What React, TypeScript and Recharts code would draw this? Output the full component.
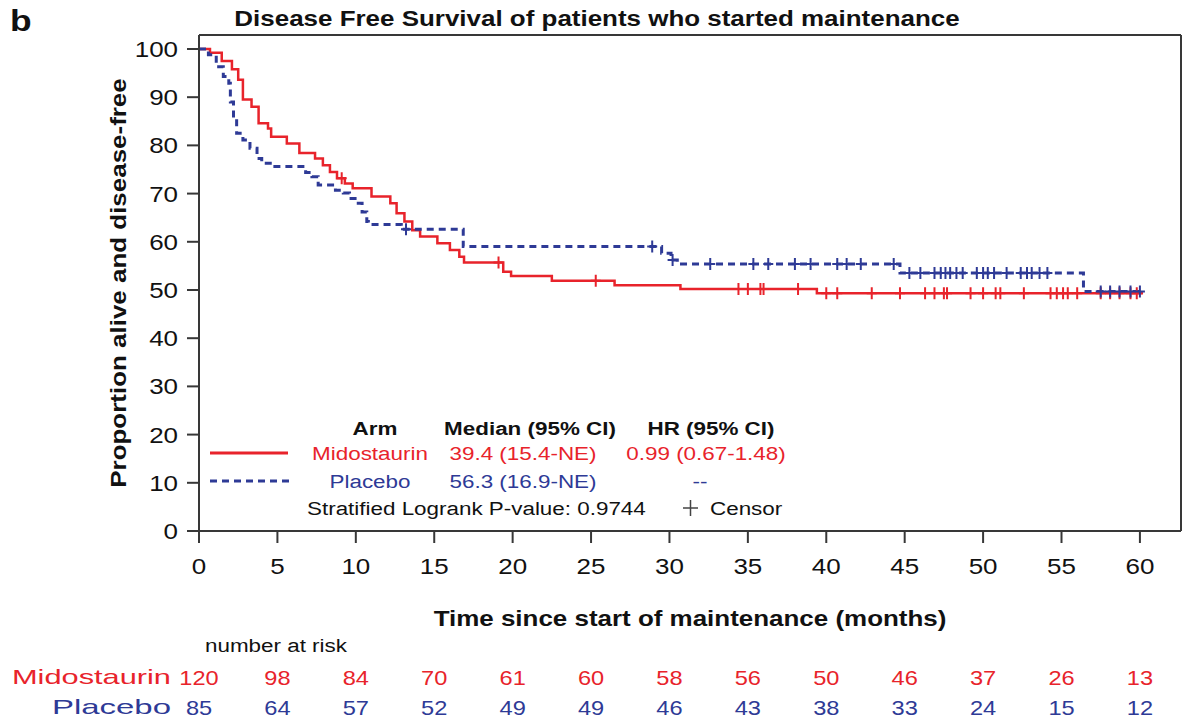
import React from 'react';
import {
  ComposedChart,
  Line,
  Scatter,
  XAxis,
  YAxis,
  ReferenceLine,
  Customized,
} from 'recharts';

const FONT = '"Liberation Sans", Arial, Helvetica, sans-serif';
const RED = '#e8232b';
const BLUE = '#2e3a96';
const AXIS = '#383838';
const INK = '#111111';
// horizontal widening applied to all text glyphs
const SX = 1.18;

// Kaplan-Meier step points (months, % alive and disease-free)
const midoTimes = [0, 0.7, 1.45, 2.1, 2.5, 2.8, 3.35, 3.8, 4.4, 4.6, 5.6, 6.4, 7.4, 7.9, 8.35, 8.8, 9.3, 9.8, 11.0, 12.2, 12.6, 13.1, 13.6, 14.1, 15.2, 16.0, 16.6, 16.9, 19.4, 19.9, 22.5, 26.5, 30.7, 39.4, 60.2];
const midoSurv = [100, 99.2, 97.5, 95.8, 93.6, 89.5, 88.0, 84.6, 83.5, 81.8, 80.4, 78.4, 77.3, 75.9, 74.5, 73.2, 72.1, 71.1, 69.4, 68.0, 65.9, 64.2, 62.4, 61.1, 59.7, 58.3, 56.9, 55.7, 53.8, 52.9, 51.9, 51.0, 50.2, 49.3, 49.3];

const placeboTimes = [0, 0.6, 1.1, 1.55, 1.9, 2.0, 2.2, 2.4, 2.8, 3.25, 3.7, 4.0, 4.7, 6.8, 7.2, 7.6, 8.7, 9.2, 9.6, 10.05, 10.4, 10.7, 10.8, 12.9, 16.85, 29.5, 30.1, 30.5, 44.7, 56.4, 60.1];
const placeboSurv = [100, 98.8, 96.3, 94.3, 92.9, 89.0, 85.5, 82.5, 81.1, 79.4, 77.3, 76.3, 75.6, 74.4, 73.5, 71.8, 70.7, 70.1, 69.0, 68.0, 66.2, 64.2, 63.6, 62.6, 59.0, 57.6, 56.2, 55.4, 53.5, 49.7, 49.7];

// Censoring times (months)
const midoCensor = [9.1, 19.1, 25.3, 34.4, 35.0, 35.8, 36.0, 38.2, 40.0, 40.7, 42.9, 44.7, 46.3, 46.9, 47.5, 47.7, 49.2, 50.0, 50.8, 51.1, 52.6, 54.3, 54.7, 55.1, 55.4, 56.0, 57.5, 58.1, 58.7, 59.4, 59.8];
const placeboCensor = [13.2, 28.9, 30.2, 32.6, 35.35, 36.3, 38.0, 39.0, 40.7, 41.3, 42.2, 44.3, 45.3, 46.0, 46.9, 47.3, 47.6, 47.9, 48.3, 48.7, 49.6, 50.0, 50.3, 50.7, 51.5, 52.4, 52.8, 53.1, 53.6, 54.1, 57.5, 58.1, 58.7, 59.4, 60.0];

// Number at risk table
const riskMonths = [0, 5, 10, 15, 20, 25, 30, 35, 40, 45, 50, 55, 60];
const midoAtRisk = [120, 98, 84, 70, 61, 60, 58, 56, 50, 46, 37, 26, 13];
const placeboAtRisk = [85, 64, 57, 52, 49, 49, 46, 43, 38, 33, 24, 15, 12];

const yTicks = [0, 10, 20, 30, 40, 50, 60, 70, 80, 90, 100];

const X_MAX = 62.62;
const Y_MAX = 102.9;

function stepValue(times: number[], surv: number[], t: number): number {
  let v = surv[0];
  for (let i = 0; i < times.length; i++) {
    if (times[i] <= t) v = surv[i];
  }
  return v;
}

const midoCurve = midoTimes.map((t, i) => ({ t, s: midoSurv[i] }));
const placeboCurve = placeboTimes.map((t, i) => ({ t, s: placeboSurv[i] }));
const midoMarks = midoCensor.map((t) => ({ t, s: stepValue(midoTimes, midoSurv, t) }));
const placeboMarks = placeboCensor.map((t) => ({ t, s: stepValue(placeboTimes, placeboSurv, t) }));

type STextProps = {
  x: number;
  y: number;
  size: number;
  fill?: string;
  bold?: boolean;
  anchor?: 'start' | 'middle' | 'end';
  rotate?: number;
  children: React.ReactNode;
};

// Text widened horizontally around its anchor point
function SText({ x, y, size, fill = INK, bold, anchor = 'start', rotate, children }: STextProps) {
  const rot = rotate ? ` rotate(${rotate})` : '';
  return (
    <text
      transform={`translate(${x},${y})${rot} scale(${SX},1)`}
      fontFamily={FONT}
      fontSize={size}
      fontWeight={bold ? 'bold' : 'normal'}
      fill={fill}
      textAnchor={anchor}
    >
      {children}
    </text>
  );
}

function makePlus(color: string) {
  return (props: any) => {
    const { cx, cy } = props;
    if (cx == null || cy == null) return <g />;
    return (
      <path
        d={`M${cx - 5},${cy}H${cx + 5}M${cx},${cy - 6}V${cy + 6}`}
        stroke={color}
        strokeWidth={2}
        fill="none"
      />
    );
  };
}

function TimeTick(props: any) {
  const { x, y, payload } = props;
  const i = riskMonths.indexOf(payload.value);
  return (
    <g>
      <SText x={x} y={y + 17} size={22} anchor="middle">{payload.value}</SText>
      <SText x={x} y={y + 128} size={20} fill={RED} anchor="middle">
        {i >= 0 ? midoAtRisk[i] : ''}
      </SText>
      <SText x={x} y={y + 158} size={20} fill={BLUE} anchor="middle">
        {i >= 0 ? placeboAtRisk[i] : ''}
      </SText>
    </g>
  );
}

function ValueTick(props: any) {
  const { x, y, payload } = props;
  return (
    <SText x={x} y={y + 8} size={22} anchor="end">{payload.value}</SText>
  );
}

function Annotations() {
  return (
    <g>
      <SText x={10} y={31} size={30} bold>b</SText>
      <SText x={597} y={26} size={22} bold anchor="middle">
        Disease Free Survival of patients who started maintenance
      </SText>
      <SText x={126} y={283} size={22} bold anchor="middle" rotate={-90}>
        Proportion alive and disease-free
      </SText>
      <SText x={690} y={626} size={22} bold anchor="middle">
        Time since start of maintenance (months)
      </SText>

      {/* number at risk labels */}
      <SText x={205} y={652} size={19}>number at risk</SText>
      <text
        x={12}
        y={684}
        fontFamily={FONT}
        fontSize={21}
        fill={RED}
        textLength={159}
        lengthAdjust="spacingAndGlyphs"
      >
        Midostaurin
      </text>
      <text
        x={52}
        y={714}
        fontFamily={FONT}
        fontSize={21}
        fill={BLUE}
        textLength={119}
        lengthAdjust="spacingAndGlyphs"
      >
        Placebo
      </text>

      {/* in-plot legend */}
      <SText x={375} y={435} size={19} bold anchor="middle">Arm</SText>
      <SText x={530} y={435} size={19} bold anchor="middle">Median (95% CI)</SText>
      <SText x={711} y={435} size={19} bold anchor="middle">HR (95% CI)</SText>

      <line x1={210} x2={288} y1={453} y2={453} stroke={RED} strokeWidth={3} />
      <SText x={370} y={460} size={19} fill={RED} anchor="middle">Midostaurin</SText>
      <SText x={523} y={460} size={19} fill={RED} anchor="middle">39.4 (15.4-NE)</SText>
      <SText x={706} y={460} size={19} fill={RED} anchor="middle">0.99 (0.67-1.48)</SText>

      <line x1={210} x2={290} y1={481} y2={481} stroke={BLUE} strokeWidth={3} strokeDasharray="7 5" />
      <SText x={370} y={488} size={19} fill={BLUE} anchor="middle">Placebo</SText>
      <SText x={523} y={488} size={19} fill={BLUE} anchor="middle">56.3 (16.9-NE)</SText>
      <SText x={700} y={488} size={19} fill={BLUE} anchor="middle">--</SText>

      <SText x={307} y={515} size={19}>Stratified Logrank P-value: 0.9744</SText>
      <path d="M683,508H698M690.5,500V516" stroke="#444" strokeWidth={1.5} />
      <SText x={710} y={515} size={19}>Censor</SText>
    </g>
  );
}

export default function App() {
  return (
    <div style={{ position: 'absolute', left: 0, top: 0, width: 1190, height: 728, background: '#fff' }}>
      <ComposedChart
        width={1190}
        height={728}
        margin={{ top: 35, right: 9, bottom: 0, left: 119 }}
      >
        <XAxis
          dataKey="t"
          type="number"
          domain={[0, X_MAX]}
          ticks={riskMonths}
          interval={0}
          allowDataOverflow
          height={197}
          tickSize={12}
          tickMargin={14}
          stroke={AXIS}
          strokeWidth={2}
          tick={<TimeTick />}
        />
        <YAxis
          dataKey="s"
          type="number"
          domain={[0, Y_MAX]}
          ticks={yTicks}
          interval={0}
          allowDataOverflow
          width={80}
          tickSize={12}
          tickMargin={9}
          stroke={AXIS}
          strokeWidth={2}
          tick={<ValueTick />}
        />
        <ReferenceLine y={Y_MAX} stroke={AXIS} strokeWidth={2} />
        <ReferenceLine x={X_MAX} stroke={AXIS} strokeWidth={2} />
        <Line
          data={midoCurve}
          dataKey="s"
          type="stepAfter"
          stroke={RED}
          strokeWidth={2.5}
          dot={false}
          isAnimationActive={false}
        />
        <Line
          data={placeboCurve}
          dataKey="s"
          type="stepAfter"
          stroke={BLUE}
          strokeWidth={3}
          strokeDasharray="7 5"
          dot={false}
          isAnimationActive={false}
        />
        <Scatter
          data={midoMarks}
          dataKey="s"
          fill={RED}
          shape={makePlus(RED)}
          isAnimationActive={false}
        />
        <Scatter
          data={placeboMarks}
          dataKey="s"
          fill={BLUE}
          shape={makePlus(BLUE)}
          isAnimationActive={false}
        />
        <Customized component={Annotations} />
      </ComposedChart>
    </div>
  );
}
